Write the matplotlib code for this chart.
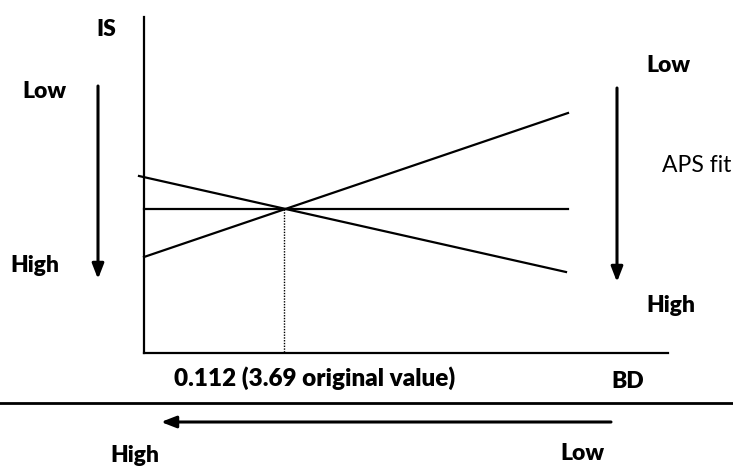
import matplotlib
matplotlib.use("Agg")
import matplotlib.pyplot as plt

# Schematic data (in figure pixel space, y downward)
line_x = [139, 566]
line_decreasing_y = [176, 272]
flat_x = [144, 568]
line_flat_y = [209, 209]
inc_x = [144, 568]
line_increasing_y = [257, 113]
cross_x = 284
cross_y = 209

axis_labels = ["IS", "BD"]
level_labels = ["Low", "High"]
fit_label = "APS fit"
threshold_label = "0.112 (3.69 original value)"

FONT = "Lato"

fig = plt.figure(figsize=(7.33, 4.66), dpi=100)
ax = fig.add_axes([0, 0, 1, 1])
ax.set_xlim(0, 733)
ax.set_ylim(466, 0)
ax.axis("off")

lw = 1.6
# axes
ax.plot([144, 144], [17, 353], color="black", lw=lw)
ax.plot([144, 668], [353, 353], color="black", lw=lw)

# lines
ax.plot(line_x, line_decreasing_y, color="black", lw=lw)
ax.plot(flat_x, line_flat_y, color="black", lw=lw)
ax.plot(inc_x, line_increasing_y, color="black", lw=lw)
ax.plot([cross_x, cross_x], [cross_y, 353], color="black", lw=1.0, ls=(0, (1, 1)))

# separator
ax.plot([0, 733], [403, 403], color="black", lw=2)

arrow_kw = dict(arrowstyle="-|>,head_length=0.9,head_width=0.35", color="black", lw=2.2, shrinkA=0, shrinkB=0)
ax.annotate("", xy=(98, 279), xytext=(98, 86), arrowprops=arrow_kw)
ax.annotate("", xy=(617, 282), xytext=(617, 88), arrowprops=arrow_kw)
ax.annotate("", xy=(161, 422), xytext=(611, 422), arrowprops=arrow_kw)

tk = dict(fontsize=16.5, fontweight=800, family=FONT, ha="center", va="center")
ax.text(106, 30, axis_labels[0], **tk)
ax.text(44, 91, level_labels[0], **tk)
ax.text(35, 266, level_labels[1], **tk)
ax.text(668, 66, level_labels[0], **tk)
ax.text(671, 305, level_labels[1], **tk)
ax.text(662, 166, fit_label, fontsize=16.5, family=FONT, ha="left", va="center")
ax.text(315, 378, threshold_label, **dict(tk, fontsize=17.5))
ax.text(628, 382, axis_labels[1], **tk)
ax.text(135, 456, level_labels[1], **tk)
ax.text(582, 454, level_labels[0], **tk)

fig.savefig("out.png", dpi=100)
